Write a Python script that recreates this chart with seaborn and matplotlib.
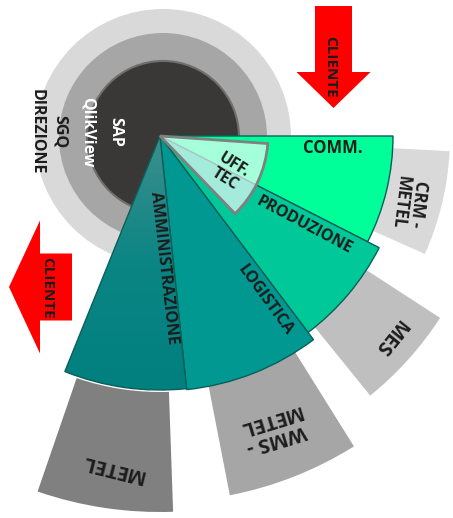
import numpy as np
import matplotlib
matplotlib.use("Agg")
import matplotlib.pyplot as plt
from matplotlib.patches import Wedge, Circle, FancyArrow
from matplotlib.colors import LinearSegmentedColormap
import seaborn as sns

sns.set_theme(style="white")
plt.rcParams['font.family'] = ['Open Sans', 'DejaVu Sans']

# ---- data ----
core_rings = ["DIREZIONE", "SGQ", "QlikView", "SAP"]
ring_radii = [128, 104, 76]          # light ring, mid ring, core
ring_colors = ["#D9D9D9", "#A6A6A6", "#3A3837"]

areas = ["COMM.", "PRODUZIONE", "LOGISTICA", "AMMINISTRAZIONE"]
area_start = [0, 27, 53, 84]        # degrees (clockwise, screen)
area_end = [27, 53, 84, 112]
area_radius = [233, 246, 255, 254]
area_colors = ["#00FF99", "#00C899", "#009891", "#00807F"]

sub_area = "UFF.\nTEC"
sub_start, sub_end, sub_radius = 4, 46, 108

systems = ["CRM -\nMETEL", "MES", "WMS -\nMETEL", "METEL"]
sys_start = [3, 33, 58, 88]
sys_end = [24, 51, 79, 109]
sys_r_in = [232, 240, 254, 256]
sys_r_out = [290, 334, 366, 376]
sys_colors = ["#D9D9D9", "#BFBFBF", "#A6A6A6", "#808080"]

arrow_label = "CLIENTE"

# ---- figure ----
fig = plt.figure(figsize=(4.53, 5.18), dpi=100)
ax = fig.add_axes([0, 0, 1, 1])
ax.axis('off')

cx, cy = 163, 137      # ring centre
ax0, ay0 = 160, 136    # apex of sectors
TXT = '#1c1c1c'

# rings
for r, c in zip(ring_radii, ring_colors):
    ec = "#6E6E6E" if c == "#3A3837" else "none"
    ax.add_patch(Circle((cx, cy), r, facecolor=c, edgecolor=ec, lw=1.5, zorder=1))

# ring texts
ring_text_x = [37, 60, 88, 115]
ring_text_col = [TXT, TXT, "white", "white"]
for t, x, c in zip(core_rings, ring_text_x, ring_text_col):
    ax.text(x, 132, t, rotation=-90, ha='center', va='center', rotation_mode='anchor',
            fontsize=11.5, fontweight='bold', color=c, zorder=5)

# system blocks (outer gray)
for s, e, ri, ro, c in zip(sys_start, sys_end, sys_r_in, sys_r_out, sys_colors):
    ax.add_patch(Wedge((ax0, ay0), ro, s, e, width=ro - ri, facecolor=c,
                       edgecolor='none', zorder=2))

sys_label_pos = [(409, 203), (390, 337), (273, 429), (113, 468)]
sys_label_rot = [-97, 231, 197, 166]
sys_label_size = [12, 14, 14.5, 14.5]
for t, (x, y), rot, fs in zip(systems, sys_label_pos, sys_label_rot, sys_label_size):
    ax.text(x, y, t, rotation=rot, ha='center', va='center', rotation_mode='anchor',
            fontsize=fs, fontweight='bold', color=TXT, zorder=5,
            linespacing=1.0)

# area sectors
for i, (s, e, r, c) in enumerate(zip(area_start, area_end, area_radius, area_colors)):
    if i == len(areas) - 1:
        w = Wedge((ax0, ay0), r, s, e, facecolor='none', edgecolor='#0b5f58',
                  lw=1.0, zorder=3.2)
        ax.add_patch(w)
        grad = np.linspace(0, 1, 256).reshape(-1, 1)
        cmap = LinearSegmentedColormap.from_list("amm", ["#3C8F8D", "#0A8584", c])
        im = ax.imshow(grad, extent=[50, 200, 395, ay0], origin='upper', cmap=cmap,
                       aspect='auto', zorder=3.1, interpolation='bilinear')
        im.set_clip_path(w)
    else:
        ax.add_patch(Wedge((ax0, ay0), r, s, e, facecolor=c, edgecolor='#0b5f58',
                           lw=1.0, zorder=3))

# sub area (UFF. TEC)
ax.add_patch(Wedge((ax0, ay0), sub_radius, sub_start, sub_end, facecolor=(1, 1, 1, 0.65),
                   edgecolor='#808080', lw=2, zorder=4))

area_label_pos = [(333, 148), (304, 225), (265, 300), (164, 268)]
area_label_rot = [0, -28, -54, -83.5]
area_label_size = [12, 11.5, 11.5, 11.5]
for t, (x, y), rot, fs in zip(areas, area_label_pos, area_label_rot, area_label_size):
    ax.text(x, y, t, rotation=rot, ha='center', va='center', rotation_mode='anchor',
            fontsize=fs, fontweight='bold', color=TXT, zorder=5)

ax.text(229, 172, sub_area, rotation=-32, ha='center', va='center', rotation_mode='anchor',
        fontsize=11.5, fontweight='bold', color=TXT, zorder=5, linespacing=1.05)

# arrows
ax.add_patch(FancyArrow(333.5, 6, 0, 102, width=37, head_width=74, head_length=36,
                        length_includes_head=True, facecolor='#FF0000', edgecolor='none', zorder=5))
ax.add_patch(FancyArrow(72, 287, -63, 0, width=67, head_width=133, head_length=31,
                        length_includes_head=True, facecolor='#FF0000', edgecolor='none', zorder=5))
ax.text(330, 67, arrow_label, rotation=-90, ha='center', va='center', rotation_mode='anchor',
        fontsize=11, fontweight='bold', color=TXT, zorder=6)
ax.text(47, 288, arrow_label, rotation=-90, ha='center', va='center', rotation_mode='anchor',
        fontsize=11, fontweight='bold', color=TXT, zorder=6)

ax.set_xlim(0, 453)
ax.set_ylim(518, 0)
ax.set_aspect('equal')

fig.savefig("out.png", dpi=100)
